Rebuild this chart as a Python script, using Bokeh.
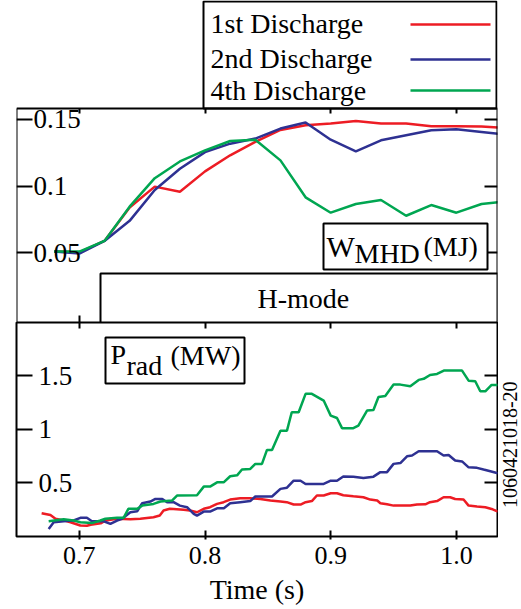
import math
from bokeh.plotting import figure
from bokeh.models import (Range1d, LinearAxis, FixedTicker, CustomJSTickFormatter,
                          BoxAnnotation, Label)
from bokeh.layouts import column, row
from bokeh.embed import file_html
from bokeh.resources import INLINE
from bokeh.core.properties import value

# ---------------- data ----------------
SERIES = ["1st Discharge", "2nd Discharge", "4th Discharge"]
COLORS = ["#ed1c24", "#2e3192", "#00a651"]

W_TIME = [0.68, 0.70, 0.72, 0.74, 0.76, 0.78, 0.80, 0.82, 0.84, 0.86,
          0.88, 0.90, 0.92, 0.94, 0.96, 0.98, 1.00, 1.02, 1.04]
W_1ST = [0.051, 0.0505, 0.059, 0.084, 0.0996, 0.0958, 0.111, 0.123, 0.133, 0.142,
         0.1455, 0.1467, 0.1487, 0.1467, 0.1467, 0.1447, 0.1447, 0.1445, 0.1435]
W_2ND = [0.051, 0.0495, 0.059, 0.074, 0.0971, 0.113, 0.1254, 0.1317, 0.1355, 0.143,
         0.1475, 0.1347, 0.126, 0.1342, 0.138, 0.1417, 0.1425, 0.1405, 0.1385]
W_4TH = [0.051, 0.051, 0.059, 0.0846, 0.1059, 0.1184, 0.1267, 0.1337, 0.1347, 0.1192,
         0.0916, 0.0801, 0.0866, 0.0896, 0.0778, 0.0858, 0.0801, 0.0866, 0.0885]

P_1ST_T = [0.670, 0.677, 0.681, 0.6875, 0.693, 0.7008, 0.706, 0.709, 0.717, 0.721,
           0.730, 0.7406, 0.7485, 0.759, 0.764, 0.767, 0.772, 0.783, 0.788, 0.7936,
           0.799, 0.804, 0.8096, 0.8148, 0.820, 0.828, 0.836, 0.844, 0.852, 0.860,
           0.865, 0.8705, 0.876, 0.880, 0.885, 0.889, 0.8944, 0.900, 0.905, 0.910,
           0.918, 0.926, 0.9315, 0.937, 0.9395, 0.9448, 0.950, 0.9633, 0.9686, 0.9753,
           0.979, 0.9846, 0.9898, 0.995, 0.999, 1.0057, 1.0097, 1.0164, 1.023, 1.028, 1.033]
P_1ST = [0.217, 0.20, 0.165, 0.15, 0.133, 0.102, 0.10, 0.11, 0.123, 0.149,
         0.165, 0.16, 0.165, 0.18, 0.195, 0.242, 0.258, 0.25, 0.242, 0.226,
         0.258, 0.273, 0.304, 0.32, 0.344, 0.356, 0.356, 0.35, 0.335, 0.326,
         0.32, 0.298, 0.298, 0.32, 0.33, 0.382, 0.382, 0.403, 0.403, 0.385,
         0.375, 0.366, 0.344, 0.335, 0.31, 0.30, 0.288, 0.288, 0.298, 0.30,
         0.32, 0.33, 0.366, 0.366, 0.35, 0.345, 0.288, 0.28, 0.273, 0.257, 0.232]

P_2ND_T = [0.6756, 0.6796, 0.6875, 0.6955, 0.7008, 0.706, 0.710, 0.7194, 0.7247, 0.730,
           0.734, 0.7406, 0.746, 0.750, 0.7565, 0.7605, 0.766, 0.7698, 0.775, 0.780,
           0.7857, 0.791, 0.7936, 0.799, 0.804, 0.8096, 0.815, 0.820, 0.828, 0.836,
           0.840, 0.8533, 0.860, 0.8652, 0.8705, 0.876, 0.880, 0.8944, 0.900, 0.905,
           0.910, 0.918, 0.926, 0.934, 0.9395, 0.9448, 0.950, 0.9554, 0.9607, 0.9647,
           0.970, 0.9846, 0.9898, 0.9938, 0.999, 1.0045, 1.0097, 1.0164, 1.0216, 1.027, 1.033]
P_2ND = [0.07, 0.133, 0.142, 0.149, 0.174, 0.174, 0.142, 0.142, 0.118, 0.149,
         0.165, 0.226, 0.235, 0.31, 0.326, 0.35, 0.35, 0.32, 0.32, 0.288,
         0.273, 0.211, 0.195, 0.232, 0.232, 0.263, 0.263, 0.31, 0.32, 0.33,
         0.373, 0.373, 0.444, 0.455, 0.52, 0.52, 0.49, 0.49, 0.52, 0.52,
         0.56, 0.558, 0.546, 0.558, 0.60, 0.60, 0.677, 0.685, 0.748, 0.755,
         0.795, 0.795, 0.755, 0.76, 0.708, 0.70, 0.645, 0.64, 0.624, 0.608, 0.59]

P_4TH_T = [0.6756, 0.6875, 0.6955, 0.7008, 0.710, 0.7167, 0.7207, 0.730, 0.7352, 0.739,
           0.746, 0.750, 0.759, 0.7645, 0.7737, 0.7777, 0.7936, 0.799, 0.804, 0.8096,
           0.8148, 0.820, 0.8255, 0.8294, 0.836, 0.840, 0.8453, 0.8493, 0.8533, 0.860,
           0.8652, 0.869, 0.8745, 0.880, 0.885, 0.8944, 0.900, 0.905, 0.909, 0.918,
           0.922, 0.9289, 0.934, 0.938, 0.9434, 0.950, 0.9554, 0.9633, 0.970, 0.974,
           0.979, 0.9846, 0.990, 1.0045, 1.0097, 1.015, 1.019, 1.023, 1.028, 1.033]
P_4TH = [0.142, 0.16, 0.149, 0.133, 0.125, 0.149, 0.165, 0.174, 0.174, 0.258,
         0.258, 0.288, 0.304, 0.326, 0.335, 0.382, 0.385, 0.465, 0.465, 0.505,
         0.505, 0.562, 0.57, 0.624, 0.63, 0.677, 0.677, 0.807, 0.807, 0.987,
         0.987, 1.158, 1.158, 1.33, 1.33, 1.267, 1.127, 1.105, 1.01, 1.01,
         1.034, 1.174, 1.18, 1.30, 1.31, 1.416, 1.416, 1.40, 1.46, 1.47,
         1.506, 1.515, 1.547, 1.547, 1.453, 1.447, 1.354, 1.354, 1.413, 1.413]

X_TICKS = [0.7, 0.8, 0.9, 1.0]
X_LABELS = ["0.7", "0.8", "0.9", "1.0"]
W_TICKS = [0.05, 0.1, 0.15]
W_LABELS = ["0.05", "0.1", "0.15"]
P_TICKS = [0.5, 1.0, 1.5]
P_LABELS = ["0.5", "1", "1.5"]
FIGURE_ID = "1060421018-20"

# ---------------- layout constants ----------------
FONT = "Liberation Serif"
X0, X1 = 0.65, 1.0327
W0, W1 = -0.002, 0.158          # W panel: page y 322 .. 108
P0, P1 = 0.0, 1.995             # P panel: page y 536 .. 322
FRAME_L, FRAME_W = 16, 481
W_PX = (W1 - W0) / 214          # W units per pixel
W_TOP = W1 + 108 * W_PX         # top of the canvas (legend area above the W panel)


def fx(px):
    return X0 + (px - FRAME_L) * (X1 - X0) / FRAME_W


def fy_w(py):  # page y -> W units
    return W1 - (py - 108) * W_PX


def fy_p(py):  # page y -> P units
    return P1 - (py - 322) * (P1 - P0) / 214


def mid(baseline, size):  # text middle from baseline
    return baseline - 0.34 * size


def add_axis(p, side, ticks, fixed, length, labels=None, standoff=0, bounds=None,
             line=False, fsize="27px"):
    ax = LinearAxis(ticker=FixedTicker(ticks=ticks), fixed_location=fixed,
                    major_tick_in=0, major_tick_out=length,
                    minor_tick_in=0, minor_tick_out=0,
                    axis_line_color="black" if line else None, axis_line_width=2,
                    major_tick_line_color="black", major_tick_line_width=2)
    if bounds is not None:
        ax.bounds = bounds
    if labels:
        ax.major_label_overrides = dict(zip(ticks, labels))
        ax.major_label_text_font = FONT
        ax.major_label_text_font_size = fsize
        ax.major_label_text_color = "black"
        ax.major_label_standoff = standoff
    else:
        ax.formatter = CustomJSTickFormatter(code="return ''")
        ax.major_label_standoff = 0
    p.add_layout(ax, side)
    return ax


def label(p, x, y, text, size):
    p.add_layout(Label(x=x, y=y, text=text, text_font=FONT, text_font_size=f"{size}px",
                       text_align="left", text_baseline="middle", text_color="black"))


def box(p, **kw):
    p.add_layout(BoxAnnotation(fill_color="white", fill_alpha=1, line_color="black",
                               line_width=2, line_alpha=1, **kw))


x_range = Range1d(X0, X1)

# ---------------- top panel: legend + W_MHD ----------------
pt = figure(width=521, height=322, x_range=x_range, y_range=Range1d(W0, W_TOP),
            x_axis_type=None, y_axis_type=None, toolbar_location=None,
            output_backend="svg", min_border_left=FRAME_L, min_border_right=24,
            min_border_top=0, min_border_bottom=0, outline_line_color=None)

# legend box (text on the left, line sample on the right)
pt.quad(left=[fx(203)], right=[fx(496)], top=[fy_w(1)], bottom=[W1],
        fill_color="white", line_color="black", line_width=2)
pt.text(x=[fx(210)] * 3, y=[fy_w(mid(33, 28)), fy_w(mid(68, 28)), fy_w(mid(100, 28))],
        text=SERIES, text_font=value(FONT), text_font_size="28px",
        text_baseline="middle", text_color="black")
pt.multi_line(xs=[[fx(410), fx(490)]] * 3,
              ys=[[fy_w(24)] * 2, [fy_w(59)] * 2, [fy_w(90)] * 2],
              line_color=COLORS, line_width=2.5)

box(pt, left=fx(100), top=fy_w(273))
label(pt, fx(257), fy_w(mid(308, 28)), "H-mode", 28)

for vals, col in zip([W_1ST, W_2ND, W_4TH], COLORS):
    pt.line(W_TIME, vals, line_color=col, line_width=2.5)

box(pt, left=fx(323), right=fx(487), top=fy_w(223), bottom=fy_w(269))
label(pt, fx(326), fy_w(mid(256, 30)), "W", 30)
label(pt, fx(354), fy_w(mid(263, 28)), "MHD", 28)
label(pt, fx(423), fy_w(mid(256, 28)), "(MJ)", 28)

# panel borders and inward ticks
add_axis(pt, "right", W_TICKS, X0, 16, W_LABELS, standoff=1, bounds=(W0, W1), line=True)
add_axis(pt, "left", W_TICKS, X1, 13, bounds=(W0, W1), line=True)
add_axis(pt, "below", X_TICKS, W1, 5, line=True)
add_axis(pt, "above", X_TICKS, W0, 7, line=True)

# ---------------- bottom panel: P_rad ----------------
pb = figure(width=498, height=287, x_range=x_range, y_range=Range1d(P0, P1),
            x_axis_type=None, y_axis_type=None, toolbar_location=None,
            output_backend="svg", min_border_left=FRAME_L, min_border_right=1,
            min_border_top=0, min_border_bottom=73,
            outline_line_color="black", outline_line_width=2)

for tt, vals, col in zip([P_1ST_T, P_2ND_T, P_4TH_T], [P_1ST, P_2ND, P_4TH], COLORS):
    pb.line(tt, vals, line_color=col, line_width=2.5)

box(pb, left=fx(105), right=fx(244), top=fy_p(337), bottom=fy_p(383))
label(pb, fx(110), fy_p(mid(364, 28)), "P", 28)
label(pb, fx(126), fy_p(mid(375, 28)), "rad", 28)
label(pb, fx(170), fy_p(mid(365, 28)), "(MW)", 28)

add_axis(pb, "right", P_TICKS, X0, 16, P_LABELS, standoff=6)
add_axis(pb, "left", P_TICKS, X1, 13)
add_axis(pb, "below", X_TICKS, P1, 6)

xa = LinearAxis(ticker=FixedTicker(ticks=X_TICKS), axis_line_color=None,
                major_tick_in=6, major_tick_out=3, minor_tick_in=0, minor_tick_out=0,
                major_tick_line_width=2, major_tick_line_color="black",
                major_label_overrides=dict(zip(X_TICKS, X_LABELS)),
                major_label_text_font=FONT, major_label_text_font_size="26px",
                major_label_text_color="black", major_label_standoff=7,
                axis_label="Time (s)", axis_label_text_font=FONT,
                axis_label_text_font_size="28px", axis_label_text_font_style="normal",
                axis_label_text_color="black", axis_label_standoff=7)
pb.add_layout(xa, "below")

# ---------------- right strip with the figure id ----------------
ps = figure(width=23, height=287, x_range=Range1d(0, 23), y_range=Range1d(0, 287),
            x_axis_type=None, y_axis_type=None, toolbar_location=None,
            output_backend="svg", min_border=0, outline_line_color=None)
ps.text(x=[11.5], y=[287 - (486 - 322)], text=[FIGURE_ID], angle=math.pi / 2,
        text_font=value(FONT), text_font_size="20px", text_align="center",
        text_baseline="middle", text_color="black")

layout = column(pt, row(pb, ps, spacing=0), spacing=0)
open("out.html", "w").write(file_html(layout, INLINE))
